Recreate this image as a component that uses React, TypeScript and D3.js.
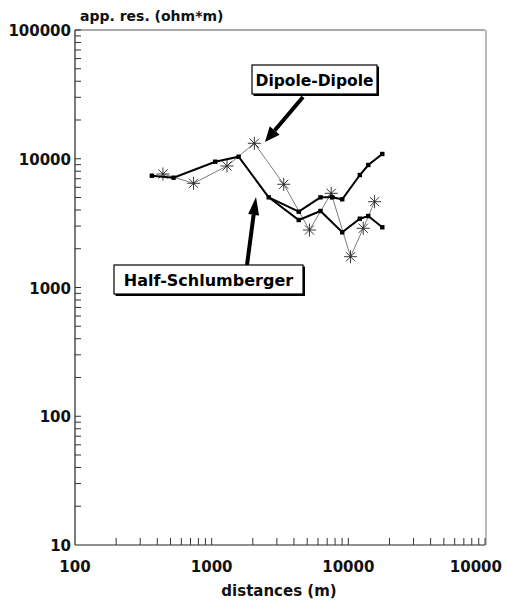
import React from "react";
import * as d3 from "d3";

// Half-Schlumberger: shared start, then two branches
const hsCommonDist = [365, 526, 1063, 1575, 2614];
const hsCommonVal = [7384, 7125, 9487, 10373, 5018];
const hsUpperDist = [2614, 4337, 6255, 7621, 9023, 12140, 13990, 17720];
const hsUpperVal = [5018, 3879, 5018, 5018, 4842, 7478, 8944, 10887];
const hsLowerDist = [2614, 4337, 6255, 9023, 12140, 13990, 17720];
const hsLowerVal = [5018, 3344, 3928, 2684, 3423, 3592, 2935];

// Dipole-Dipole
const ddDist = [440, 737, 1295, 2053, 3367, 5195, 7492, 10379, 12860, 15565];
const ddVal = [7613, 6447, 8784, 13183, 6333, 2796, 5391, 1735, 2883, 4638];

const yTickValues = [10, 100, 1000, 10000, 100000];
const yTickLabels = ["10", "100", "1000", "10000", "100000"];
const xTickValues = [100, 1000, 10000, 100000];
const xTickLabels = ["100", "1000", "10000", "10000"];

const FONT = "'DejaVu Sans', sans-serif";

export default function App() {
  const x = d3.scaleLog().domain([100, 100000]).range([75, 485]);
  const y = d3.scaleLog().domain([10, 100000]).range([545, 30]);

  const minorX: number[] = [];
  for (let e = 2; e <= 4; e++) {
    for (let m = 2; m <= 10; m++) minorX.push(m * Math.pow(10, e));
  }
  const minorY: number[] = [];
  for (let e = 1; e <= 4; e++) {
    for (let m = 2; m <= 10; m++) minorY.push(m * Math.pow(10, e));
  }

  const line = d3
    .line<[number, number]>()
    .x((d) => x(d[0]))
    .y((d) => y(d[1]));

  const zip = (a: number[], b: number[]) => a.map((v, i) => [v, b[i]] as [number, number]);
  const hsC = zip(hsCommonDist, hsCommonVal);
  const hsU = zip(hsUpperDist, hsUpperVal);
  const hsL = zip(hsLowerDist, hsLowerVal);
  const dd = zip(ddDist, ddVal);

  const hsPoints = [...hsC, ...hsU.slice(1), ...hsL.slice(1)];

  const star = (cx: number, cy: number, k: number) => {
    const r = 6.5;
    const lines = [0, 45, 90, 135].map((a) => {
      const rad = (a * Math.PI) / 180;
      return (
        <line
          key={a}
          x1={cx - r * Math.cos(rad)}
          y1={cy - r * Math.sin(rad)}
          x2={cx + r * Math.cos(rad)}
          y2={cy + r * Math.sin(rad)}
          stroke="#222"
          strokeWidth={0.9}
        />
      );
    });
    return <g key={k}>{lines}</g>;
  };

  const arrow = (x1: number, y1: number, x2: number, y2: number, len: number, w: number) => {
    const ang = Math.atan2(y2 - y1, x2 - x1);
    const bx = x2 - len * Math.cos(ang);
    const by = y2 - len * Math.sin(ang);
    const px = -Math.sin(ang) * (w / 2);
    const py = Math.cos(ang) * (w / 2);
    return (
      <g>
        <line x1={x1} y1={y1} x2={bx} y2={by} stroke="#000" strokeWidth={4} />
        <polygon points={`${x2},${y2} ${bx + px},${by + py} ${bx - px},${by - py}`} fill="#000" />
      </g>
    );
  };

  return (
    <svg
      width={507}
      height={604}
      style={{ position: "absolute", left: 0, top: 0, background: "#fff" }}
      fontFamily={FONT}
    >
      <rect x={0} y={0} width={507} height={604} fill="#fff" />
      {/* frame */}
      <line x1={75} y1={30} x2={485} y2={30} stroke="#555" strokeWidth={1} />
      <line x1={486} y1={30} x2={486} y2={545} stroke="#777" strokeWidth={1} />
      <line x1={75} y1={30} x2={75} y2={545} stroke="#222" strokeWidth={1.2} />
      <line x1={75} y1={545} x2={485} y2={545} stroke="#222" strokeWidth={1.2} />

      {/* minor ticks */}
      {minorY.map((v, i) => (
        <line key={"my" + i} x1={75} x2={81} y1={y(v)} y2={y(v)} stroke="#333" strokeWidth={1} />
      ))}
      {minorX.map((v, i) => (
        <line key={"mx" + i} x1={x(v)} x2={x(v)} y1={545} y2={538} stroke="#333" strokeWidth={1} />
      ))}

      {/* tick labels */}
      {yTickValues.map((v, i) => (
        <text
          key={"yl" + i}
          x={71}
          y={y(v) + 6}
          textAnchor="end"
          fontSize={15}
          fontWeight="bold"
          fill="#111"
        >
          {yTickLabels[i]}
        </text>
      ))}
      {xTickValues.map((v, i) => (
        <text
          key={"xl" + i}
          x={i === 3 ? 502 : x(v)}
          y={572}
          textAnchor={i === 3 ? "end" : "middle"}
          fontSize={15}
          fontWeight="bold"
          fill="#111"
        >
          {xTickLabels[i]}
        </text>
      ))}

      <text x={80} y={21} fontSize={14} fontWeight="bold" fill="#111">
        app. res. (ohm*m)
      </text>
      <text x={279} y={596} textAnchor="middle" fontSize={15} fontWeight="bold" fill="#111">
        distances (m)
      </text>

      {/* Dipole-Dipole series */}
      <path d={line(dd) || ""} fill="none" stroke="#444" strokeWidth={0.7} />
      {dd.map((d, i) => star(x(d[0]), y(d[1]), i))}

      {/* Half-Schlumberger series */}
      <path d={line(hsC) || ""} fill="none" stroke="#000" strokeWidth={2} />
      <path d={line(hsU) || ""} fill="none" stroke="#000" strokeWidth={2} />
      <path d={line(hsL) || ""} fill="none" stroke="#000" strokeWidth={2} />
      {hsPoints.map((d, i) => (
        <rect key={"hs" + i} x={x(d[0]) - 2.2} y={y(d[1]) - 2.2} width={4.4} height={4.4} fill="#000" />
      ))}

      {/* annotations */}
      {arrow(303, 97, 265, 142, 15, 13)}
      {arrow(247, 265, 256, 197, 18, 11)}

      <rect x={253.5} y={66.5} width={125.5} height={29.5} fill="#000" />
      <rect x={252} y={65} width={125} height={29} fill="#fff" stroke="#000" strokeWidth={1.2} />
      <text x={314.5} y={86} textAnchor="middle" fontSize={15.5} fontWeight="bold" fill="#000">
        Dipole-Dipole
      </text>

      <rect x={115.5} y={266.5} width={189.5} height={29.5} fill="#000" />
      <rect x={114} y={265} width={189} height={29} fill="#fff" stroke="#000" strokeWidth={1.2} />
      <text x={208.5} y={286} textAnchor="middle" fontSize={16} fontWeight="bold" fill="#000">
        Half-Schlumberger
      </text>
    </svg>
  );
}
